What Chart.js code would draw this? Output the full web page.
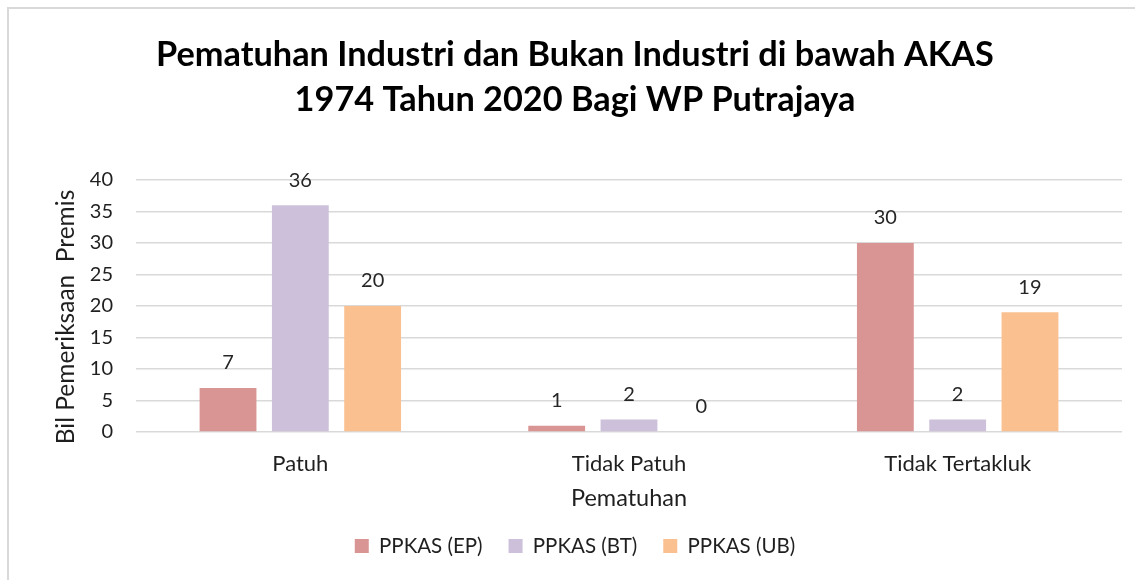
<!DOCTYPE html>
<html>
<head>
<meta charset="utf-8">
<script src="https://cdn.jsdelivr.net/npm/chart.js@4/dist/chart.umd.min.js"></script>
<style>
  html, body { margin: 0; padding: 0; background: #fff; overflow: hidden; }
  #wrap { position: relative; width: 1135px; height: 580px; }
  #frame { position: absolute; left: 7px; top: 7px; width: 1200px; height: 700px;
           border-top: 2px solid #d9d9d9; border-left: 2px solid #d9d9d9; box-sizing: border-box; pointer-events: none; }
  canvas { position: absolute; left: 0; top: 0; }
</style>
</head>
<body>
<div id="wrap">
  <canvas id="c" width="1135" height="580"></canvas>
  <div id="frame"></div>
</div>
<script>
const categories = ["Patuh", "Tidak Patuh", "Tidak Tertakluk"];
const seriesNames = ["PPKAS (EP)", "PPKAS (BT)", "PPKAS (UB)"];
const valuesEP = [7, 1, 30];
const valuesBT = [36, 2, 2];
const valuesUB = [20, 0, 19];
const yTicks = [0, 5, 10, 15, 20, 25, 30, 35, 40];
const titleLines = ["Pematuhan Industri dan Bukan Industri di bawah AKAS", "1974 Tahun 2020 Bagi WP Putrajaya"];
const xTitle = "Pematuhan";
const yTitle = "Bil Pemeriksaan  Premis";
const colors = ["#d99594", "#ccc0da", "#fac090"];

const FONT = "Lato, 'Open Sans', sans-serif";
const textColor = "#1f1f1f";

const valueLabels = {
  id: "valueLabels",
  afterDatasetsDraw(chart) {
    const ctx = chart.ctx;
    ctx.save();
    ctx.font = "20px " + FONT;
    ctx.fillStyle = "#262626";
    ctx.textAlign = "center";
    ctx.textBaseline = "middle";
    chart.data.datasets.forEach((ds, i) => {
      chart.getDatasetMeta(i).data.forEach((bar, j) => {
        ctx.fillText(String(ds.data[j]), bar.x, bar.y - 25);
      });
    });
    ctx.restore();
  }
};

const yAxisTitle = {
  id: "yAxisTitle",
  afterDraw(chart) {
    const ctx = chart.ctx;
    const a = chart.chartArea;
    ctx.save();
    ctx.font = "24.5px " + FONT;
    ctx.fillStyle = textColor;
    ctx.textAlign = "center";
    ctx.textBaseline = "middle";
    ctx.translate(66, (a.top + a.bottom) / 2 + 11);
    ctx.rotate(-Math.PI / 2);
    ctx.fillText(yTitle, 0, 0);
    ctx.restore();
  }
};

new Chart(document.getElementById("c"), {
  type: "bar",
  data: {
    labels: categories,
    datasets: [
      { label: seriesNames[0], data: valuesEP, backgroundColor: colors[0] },
      { label: seriesNames[1], data: valuesBT, backgroundColor: colors[1] },
      { label: seriesNames[2], data: valuesUB, backgroundColor: colors[2] }
    ]
  },
  options: {
    responsive: false,
    animation: false,
    devicePixelRatio: 1,
    layout: { padding: { left: 28, right: 13, top: 0, bottom: 13.75 } },
    datasets: { bar: { categoryPercentage: 0.66, barPercentage: 0.786 } },
    plugins: {
      title: {
        display: true,
        text: titleLines,
        color: "#000",
        font: { family: FONT, size: 34.3, weight: "bold", lineHeight: 1.312 },
        padding: { top: 32.5, bottom: 57.5 }
      },
      legend: {
        position: "bottom",
        labels: {
          color: textColor,
          font: { family: FONT, size: 20.5 },
          boxWidth: 14, boxHeight: 14, padding: 26
        }
      },
      tooltip: { enabled: false }
    },
    scales: {
      x: {
        afterFit(scale) { scale.height = 77.75; },
        grid: { display: false, drawTicks: false },
        border: { display: false },
        ticks: { color: textColor, font: { family: FONT, size: 22 }, padding: 19 },
        title: { display: true, text: xTitle, color: textColor, font: { family: FONT, size: 23.5 }, padding: { top: 0, bottom: -2.35 } }
      },
      y: {
        min: 0, max: 40,
        afterBuildTicks(scale) { scale.ticks = yTicks.map(v => ({ value: v })); },
        afterFit(scale) { scale.width = 108; },
        grid: { color: "#d9d9d9", lineWidth: 1.5, drawTicks: false },
        border: { display: false },
        ticks: { color: textColor, font: { family: FONT, size: 20 }, padding: 23 },
        title: { display: false, text: yTitle }
      }
    }
  },
  plugins: [valueLabels, yAxisTitle]
});
</script>
</body>
</html>
